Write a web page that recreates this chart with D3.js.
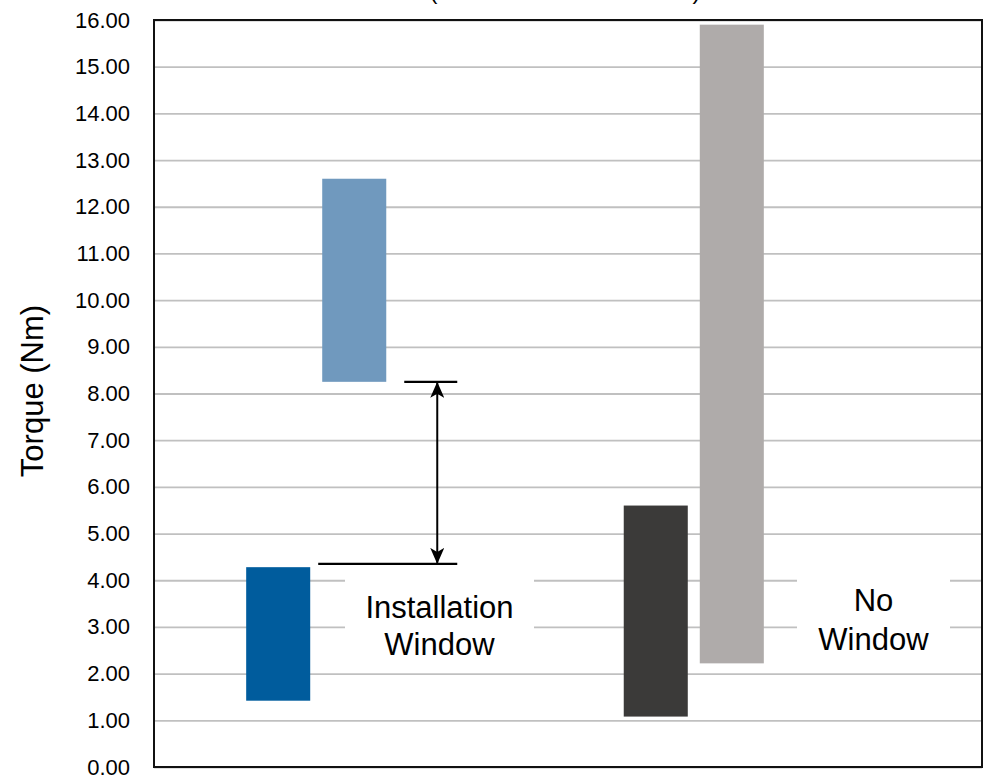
<!DOCTYPE html>
<html>
<head>
<meta charset="utf-8">
<script src="https://cdn.jsdelivr.net/npm/d3@7"></script>
<style>
  html, body { margin: 0; padding: 0; background: #ffffff; }
  svg { display: block; font-family: "Liberation Sans", Arial, sans-serif; }
</style>
</head>
<body>
<svg id="chart" width="988" height="777"></svg>
<script>
// Torque ranges per fastener group (Nm)
const groups = ["Installation Window", "No Window"];
const rangeKeys = ["low", "high"];
const lowMin  = [1.42, 1.08];
const lowMax  = [4.28, 5.60];
const highMin = [8.25, 2.22];
const highMax = [12.60, 15.90];
const barColors = [["#005C9D", "#7099BE"], ["#3B3A39", "#AFABAA"]];
const yTicks = d3.range(0, 17, 1);
const windowBounds = [4.35, 8.25];
const boxLabels = [["Installation", "Window"], ["No", "Window"]];
const titleText = "(Bolt Installation Window)";
const yLabel = "Torque (Nm)";

const svg = d3.select("#chart");
const plotLeft = 154, plotRight = 982, plotTop = 20, plotBottom = 767;

const y = d3.scaleLinear().domain([0, 16]).range([plotBottom, plotTop]);
const x0 = d3.scaleBand().domain(groups).range([plotLeft, plotRight])
  .paddingInner(0.629).paddingOuter(0.411).align(0.297);
const x1 = d3.scaleBand().domain(rangeKeys).range([0, x0.bandwidth()])
  .paddingInner(12 / 76).paddingOuter(0);

// title (sits mostly above the visible area)
svg.append("text")
  .attr("x", 565).attr("y", -1)
  .attr("text-anchor", "middle")
  .attr("font-size", 24)
  .attr("fill", "#000")
  .text(titleText);

// gridlines
const grid = svg.append("g")
  .attr("transform", `translate(${plotLeft},0)`)
  .call(d3.axisLeft(y).tickValues(yTicks).tickSize(-(plotRight - plotLeft)).tickFormat(""));
grid.select(".domain").remove();
grid.selectAll("line").attr("stroke", "#C0C0C0").attr("stroke-width", 1.8);

// tick labels
const yAxis = svg.append("g")
  .attr("transform", `translate(${plotLeft},0)`)
  .call(d3.axisLeft(y).tickValues(yTicks).tickFormat(d3.format(".2f")).tickSize(0).tickPadding(24));
yAxis.select(".domain").remove();
yAxis.selectAll("text")
  .attr("font-size", 22)
  .attr("font-family", "Liberation Sans, Arial, sans-serif")
  .attr("fill", "#000");

// white label boxes over the grid
const boxSpans = [[345, 534], [797, 950]];
const boxTop = 4.12, boxBottom = 2.03;
boxSpans.forEach(s => {
  svg.append("rect")
    .attr("x", s[0]).attr("y", y(boxTop))
    .attr("width", s[1] - s[0]).attr("height", y(boxBottom) - y(boxTop))
    .attr("fill", "#fff");
});

// floating range bars
const bars = [];
groups.forEach((g, i) => {
  bars.push({ g, k: "low", lo: lowMin[i], hi: lowMax[i], c: barColors[i][0] });
  bars.push({ g, k: "high", lo: highMin[i], hi: highMax[i], c: barColors[i][1] });
});
svg.append("g").selectAll("rect").data(bars).join("rect")
  .attr("x", d => x0(d.g) + x1(d.k))
  .attr("width", x1.bandwidth())
  .attr("y", d => y(d.hi))
  .attr("height", d => y(d.lo) - y(d.hi))
  .attr("fill", d => d.c);

// installation window annotation
const defs = svg.append("defs");
["start", "end"].forEach(n => {
  defs.append("marker")
    .attr("id", "arrow-" + n)
    .attr("viewBox", "0 0 16 14")
    .attr("refX", 15).attr("refY", 7)
    .attr("markerWidth", 16).attr("markerHeight", 14)
    .attr("markerUnits", "userSpaceOnUse")
    .attr("orient", n === "start" ? "auto-start-reverse" : "auto")
    .append("path")
    .attr("d", "M0,0 L16,7 L0,14 L4,7 Z")
    .attr("fill", "#000");
});
const g0 = groups[0];
const annRight = x0(g0) + x0.bandwidth() + 71;
const arrowX = x0(g0) + x0.bandwidth() + 51;
svg.append("line")
  .attr("x1", x0(g0) + x1("low") + x1.bandwidth() + 8).attr("x2", annRight)
  .attr("y1", y(windowBounds[0])).attr("y2", y(windowBounds[0]))
  .attr("stroke", "#000").attr("stroke-width", 2.2);
svg.append("line")
  .attr("x1", x0(g0) + x0.bandwidth() + 18).attr("x2", annRight)
  .attr("y1", y(windowBounds[1])).attr("y2", y(windowBounds[1]))
  .attr("stroke", "#000").attr("stroke-width", 2.2);
svg.append("line")
  .attr("x1", arrowX).attr("x2", arrowX)
  .attr("y1", y(windowBounds[0]) - 1).attr("y2", y(windowBounds[1]) + 1)
  .attr("stroke", "#000").attr("stroke-width", 2)
  .attr("marker-start", "url(#arrow-start)")
  .attr("marker-end", "url(#arrow-end)");

// box labels
const labelPos = [{ cx: 439.5, ys: [618, 655] }, { cx: 873.5, ys: [611, 650] }];
boxLabels.forEach((lines, i) => {
  lines.forEach((t, j) => {
    svg.append("text")
      .attr("x", labelPos[i].cx).attr("y", labelPos[i].ys[j])
      .attr("text-anchor", "middle")
      .attr("font-size", 31)
      .attr("fill", "#000")
      .text(t);
  });
});

// plot frame
svg.append("rect")
  .attr("x", plotLeft).attr("y", plotTop)
  .attr("width", plotRight - plotLeft).attr("height", plotBottom - plotTop)
  .attr("fill", "none").attr("stroke", "#111").attr("stroke-width", 2);

// y axis title
svg.append("text")
  .attr("transform", `translate(43,391) rotate(-90)`)
  .attr("text-anchor", "middle")
  .attr("font-size", 31)
  .attr("fill", "#000")
  .text(yLabel);
</script>
</body>
</html>
